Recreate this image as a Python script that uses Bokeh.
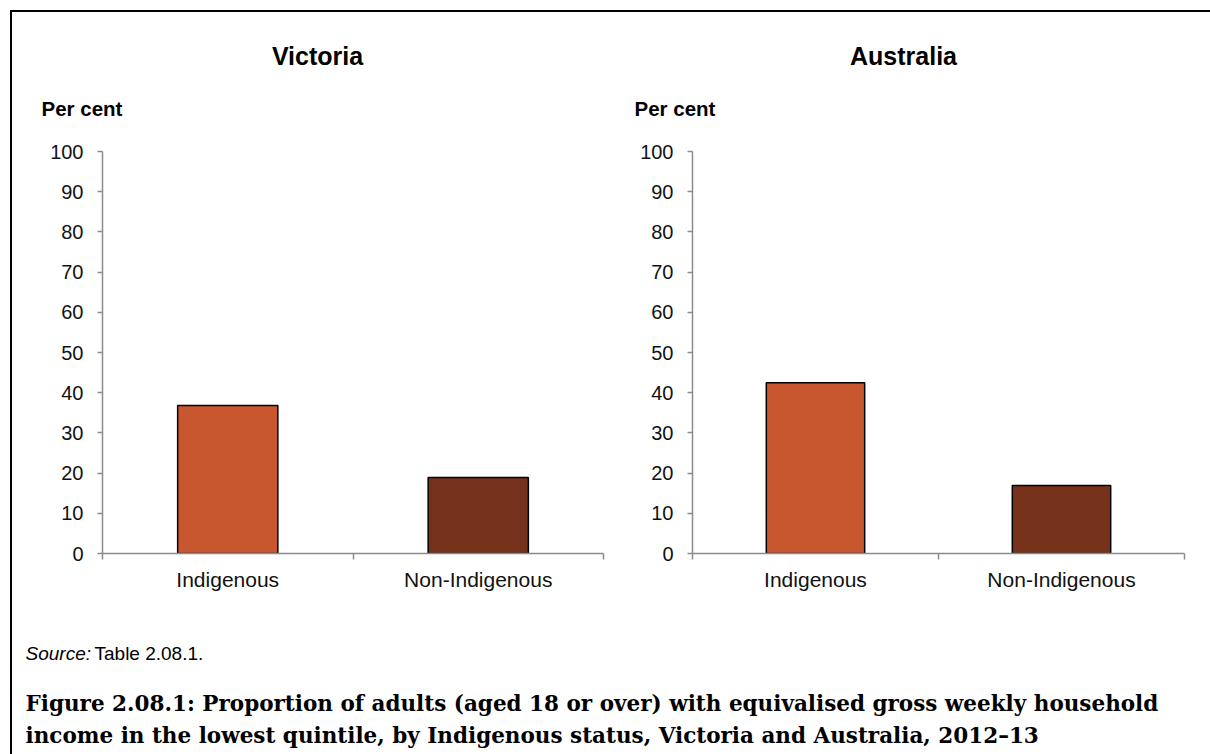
from bokeh.plotting import figure
from bokeh.models import Range1d, FixedTicker, Label, ColumnDataSource, Spacer
from bokeh.layouts import column, row
from bokeh.embed import file_html
from bokeh.resources import INLINE

# ---- data ----
categories = ["Indigenous", "Non-Indigenous"]
victoria = [36.8, 18.9]
australia = [42.5, 16.9]
bar_colors = ["#C8562F", "#76321B"]
panel_titles = ["Victoria", "Australia"]
y_ticks = list(range(0, 101, 10))
y_label = "Per cent"
source_label = "Source:"
source_text = "Table 2.08.1."
caption_lines = [
    "Figure 2.08.1: Proportion of adults (aged 18 or over) with equivalised gross weekly household",
    "income in the lowest quintile, by Indigenous status, Victoria and Australia, 2012\u201313",
]

SANS = "Liberation Sans"
SERIF = "DejaVu Serif"
AXIS_GREY = "#8C8C8C"


def blank(width, height):
    f = figure(width=width, height=height, output_backend="svg", toolbar_location=None,
               x_axis_type=None, y_axis_type=None, min_border=0,
               x_range=Range1d(0, 1), y_range=Range1d(0, 1))
    f.outline_line_color = None
    f.grid.visible = False
    return f


def make_panel(values, width, left, right):
    p = figure(width=width, height=479, output_backend="svg", toolbar_location=None,
               x_range=Range1d(0, len(categories)), y_range=Range1d(0, 100),
               min_border_left=left, min_border_right=right,
               min_border_top=15, min_border_bottom=62)
    p.outline_line_color = None
    p.xgrid.visible = False
    p.ygrid.visible = False
    src = ColumnDataSource(dict(x=[i + 0.5 for i in range(len(categories))],
                                top=values, color=bar_colors, cat=categories))
    p.vbar(x="x", top="top", bottom=0, width=0.4, fill_color="color",
           line_color="black", line_width=1.5, source=src)

    xa = p.xaxis[0]
    xa.ticker = FixedTicker(ticks=[i + 0.5 for i in range(len(categories))],
                            minor_ticks=list(range(len(categories) + 1)))
    xa.major_label_overrides = {i + 0.5: c for i, c in enumerate(categories)}
    xa.major_tick_out = 0
    xa.major_tick_in = 0
    xa.minor_tick_out = 6
    xa.minor_tick_in = 0
    xa.minor_tick_line_color = AXIS_GREY
    xa.minor_tick_line_width = 1.5
    xa.axis_line_color = AXIS_GREY
    xa.axis_line_width = 1.5
    xa.major_label_text_font = SANS
    xa.major_label_text_font_size = "21px"
    xa.major_label_text_color = "#111111"
    xa.major_label_standoff = 8

    ya = p.yaxis[0]
    ya.ticker = FixedTicker(ticks=y_ticks)
    ya.major_tick_out = 5
    ya.major_tick_in = 0
    ya.minor_tick_out = 0
    ya.minor_tick_in = 0
    ya.major_tick_line_color = AXIS_GREY
    ya.major_tick_line_width = 1.5
    ya.axis_line_color = AXIS_GREY
    ya.axis_line_width = 1.5
    ya.major_label_text_font = SANS
    ya.major_label_text_font_size = "20px"
    ya.major_label_text_color = "#111111"
    ya.major_label_standoff = 14
    return p


# header strip with both panel titles and "Per cent" labels
header = blank(1198, 124)
for title, tx, px in zip(panel_titles, [305, 891], [29, 622]):
    header.add_layout(Label(x=tx, y=81, x_units="screen", y_units="screen", text=title,
                            text_font=SANS, text_font_style="bold", text_font_size="25px",
                            text_align="center", text_baseline="middle", text_color="black"))
    header.add_layout(Label(x=px, y=28, x_units="screen", y_units="screen", text=y_label,
                            text_font=SANS, text_font_style="bold", text_font_size="20.5px",
                            text_align="left", text_baseline="middle", text_color="black"))

p1 = make_panel(victoria, 608, 90, 17)
p2 = make_panel(australia, 590, 72, 26)

p3 = blank(1198, 139)
p3.add_layout(Label(x=13, y=101, x_units="screen", y_units="screen", text=source_label,
                    text_font=SANS, text_font_style="italic", text_font_size="19px",
                    text_baseline="middle", text_color="black"))
p3.add_layout(Label(x=82, y=101, x_units="screen", y_units="screen", text=source_text,
                    text_font=SANS, text_font_size="19px",
                    text_baseline="middle", text_color="black"))
for txt, yy in zip(caption_lines, [51, 19]):
    p3.add_layout(Label(x=13, y=yy, x_units="screen", y_units="screen", text=txt,
                        text_font=SERIF, text_font_style="bold", text_font_size="21.5px",
                        text_baseline="alphabetic", text_color="black"))

main_col = column(header, row(p1, p2), p3)
top_line = Spacer(width=1200, height=2, styles={"background-color": "black"})
left_line = Spacer(width=2, height=742, styles={"background-color": "black"})

layout = column(Spacer(width=1210, height=10),
                row(Spacer(width=10, height=744),
                    column(top_line, row(left_line, main_col))))

open("out.html", "w").write(file_html(layout, INLINE))
